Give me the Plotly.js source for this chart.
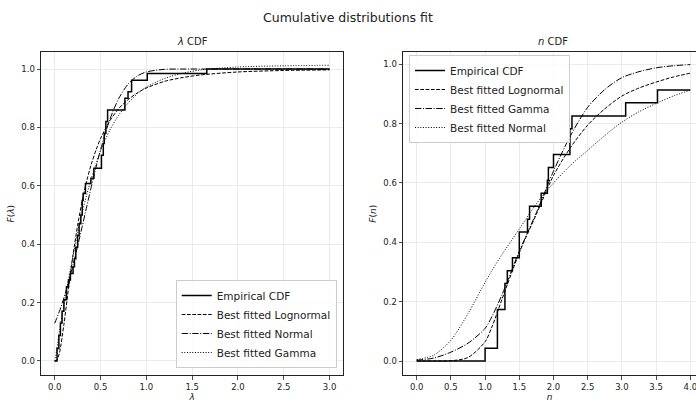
<!DOCTYPE html>
<html>
<head>
<meta charset="utf-8">
<script src="https://cdn.plot.ly/plotly-3.0.1.min.js"></script>
<style>
  html, body { margin: 0; padding: 0; background: #fff; }
  #chart { width: 696px; height: 403px; }
</style>
</head>
<body>
<div id="chart"></div>
<script>
// ---------- λ panel data ----------
const lamEcdfX = [0, 0.025, 0.045, 0.062, 0.08, 0.10, 0.128, 0.15, 0.171, 0.20, 0.215, 0.23, 0.25, 0.266, 0.285, 0.30, 0.31, 0.335, 0.395, 0.427, 0.51, 0.53, 0.54, 0.558, 0.577, 0.766, 0.80, 0.839, 1.01, 1.66, 3.0];
const lamEcdfY = [0, 0.043, 0.087, 0.13, 0.17, 0.21, 0.254, 0.277, 0.30, 0.323, 0.35, 0.39, 0.43, 0.47, 0.50, 0.55, 0.574, 0.608, 0.626, 0.66, 0.705, 0.745, 0.78, 0.82, 0.86, 0.90, 0.922, 0.962, 0.985, 1.0, 1.0];

const lamGrid      = [0, 0.02, 0.05, 0.1, 0.15, 0.2, 0.25, 0.3, 0.35, 0.4, 0.45, 0.5, 0.6, 0.7, 0.8, 0.9, 1.0, 1.2, 1.4, 1.6, 2.0, 2.5, 3.0];
const lamLognormal = [0, 0.002, 0.026, 0.125, 0.248, 0.364, 0.465, 0.549, 0.618, 0.675, 0.722, 0.762, 0.822, 0.865, 0.895, 0.918, 0.935, 0.958, 0.971, 0.980, 0.990, 0.995, 0.997];
const lamNormal    = [0.129, 0.145, 0.169, 0.216, 0.270, 0.330, 0.394, 0.461, 0.530, 0.598, 0.663, 0.723, 0.826, 0.900, 0.948, 0.976, 0.990, 0.999, 1.0, 1.0, 1.0, 1.0, 1.0];
const lamGamma     = [0, 0.035, 0.10, 0.19, 0.28, 0.36, 0.44, 0.51, 0.57, 0.625, 0.675, 0.72, 0.79, 0.843, 0.883, 0.915, 0.938, 0.968, 0.986, 0.997, 1.007, 1.011, 1.013];

// ---------- n panel data ----------
const nEcdfX = [0, 1.0, 1.18, 1.29, 1.325, 1.40, 1.50, 1.62, 1.65, 1.82, 1.91, 1.925, 2.00, 2.24, 2.27, 3.055, 3.52, 4.0];
const nEcdfY = [0, 0.0435, 0.174, 0.261, 0.304, 0.348, 0.435, 0.478, 0.522, 0.565, 0.609, 0.652, 0.696, 0.783, 0.826, 0.870, 0.913, 0.913];

const nGrid      = [0, 0.25, 0.5, 0.75, 1.0, 1.1, 1.25, 1.5, 1.75, 2.0, 2.25, 2.5, 2.75, 3.0, 3.25, 3.5, 3.75, 4.0];
const nLognormal = [0, 0.0, 0.001, 0.012, 0.065, 0.115, 0.21, 0.365, 0.495, 0.625, 0.72, 0.795, 0.85, 0.893, 0.92, 0.94, 0.957, 0.97];
const nGamma     = [0.003, 0.01, 0.03, 0.06, 0.11, 0.15, 0.225, 0.37, 0.50, 0.64, 0.76, 0.855, 0.915, 0.955, 0.975, 0.988, 0.995, 0.999];
const nNormal    = [0.005, 0.02, 0.07, 0.16, 0.265, 0.305, 0.36, 0.445, 0.53, 0.60, 0.66, 0.71, 0.76, 0.805, 0.84, 0.868, 0.893, 0.913];

const tickVals1 = [0, 0.5, 1.0, 1.5, 2.0, 2.5, 3.0];
const tickText1 = ['0.0', '0.5', '1.0', '1.5', '2.0', '2.5', '3.0'];
const tickVals2 = [0, 0.5, 1.0, 1.5, 2.0, 2.5, 3.0, 3.5, 4.0];
const tickText2 = ['0.0', '0.5', '1.0', '1.5', '2.0', '2.5', '3.0', '3.5', '4.0'];
const yTickVals = [0, 0.2, 0.4, 0.6, 0.8, 1.0];
const yTickText = ['0.0', '0.2', '0.4', '0.6', '0.8', '1.0'];

const FONT = 'DejaVu Sans, sans-serif';
const DASH = '3.7px,1.6px';
const DASHDOT = '6.4px,1.6px,1px,1.6px';
const DOT = '1px,1.65px';

function fitLine(x, y, name, dash, xa, ya, legend) {
  return {x: x, y: y, name: name, type: 'scatter', mode: 'lines',
          line: {color: '#000', width: 1, dash: dash, shape: 'spline', smoothing: 0.8},
          xaxis: xa, yaxis: ya, legend: legend, hoverinfo: 'skip'};
}

const traces = [
  {x: lamEcdfX, y: lamEcdfY, name: 'Empirical CDF', type: 'scatter', mode: 'lines',
   line: {color: '#000', width: 1.5, shape: 'hv'}, xaxis: 'x', yaxis: 'y', legend: 'legend'},
  fitLine(lamGrid, lamLognormal, 'Best fitted Lognormal', DASH, 'x', 'y', 'legend'),
  fitLine(lamGrid, lamNormal, 'Best fitted Normal', DASHDOT, 'x', 'y', 'legend'),
  fitLine(lamGrid, lamGamma, 'Best fitted Gamma', DOT, 'x', 'y', 'legend'),

  {x: nEcdfX, y: nEcdfY, name: 'Empirical CDF', type: 'scatter', mode: 'lines',
   line: {color: '#000', width: 1.5, shape: 'hv'}, xaxis: 'x2', yaxis: 'y2', legend: 'legend2'},
  fitLine(nGrid, nLognormal, 'Best fitted Lognormal', DASH, 'x2', 'y2', 'legend2'),
  fitLine(nGrid, nGamma, 'Best fitted Gamma', DASHDOT, 'x2', 'y2', 'legend2'),
  fitLine(nGrid, nNormal, 'Best fitted Normal', DOT, 'x2', 'y2', 'legend2')
];

const axisCommon = {
  showgrid: true, gridcolor: '#e6e6e6', gridwidth: 0.8,
  zeroline: false, showline: true, linecolor: '#222', linewidth: 1,
  ticks: 'outside', ticklen: 3.5, tickwidth: 0.8, tickcolor: '#222',
  tickfont: {family: FONT, size: 8.5, color: '#222'}
};

const legendCommon = {
  bgcolor: 'rgba(255,255,255,0.8)', bordercolor: '#cccccc', borderwidth: 1,
  font: {family: FONT, size: 10.5, color: '#222'}, itemwidth: 30, tracegroupgap: 0
};

const layout = {
  width: 696, height: 403,
  margin: {l: 0, r: 0, t: 0, b: 0},
  paper_bgcolor: '#fff', plot_bgcolor: '#fff',
  font: {family: FONT, color: '#222'},
  showlegend: true,
  xaxis: Object.assign({}, axisCommon, {
    domain: [41 / 696, 343.3 / 696], range: [-0.15, 3.15],
    tickvals: tickVals1, ticktext: tickText1, mirror: true, anchor: 'y',
    title: {text: '<i>λ</i>', font: {family: FONT, size: 9}, standoff: 1}
  }),
  yaxis: Object.assign({}, axisCommon, {
    domain: [28 / 403, 350.6 / 403], range: [-0.048, 1.057],
    tickvals: yTickVals, ticktext: yTickText, mirror: true, anchor: 'x',
    title: {text: '<i>F</i>(<i>λ</i>)', font: {family: FONT, size: 9}, standoff: 5}
  }),
  xaxis2: Object.assign({}, axisCommon, {
    domain: [403 / 696, 1], range: [-0.2, 4.083],
    tickvals: tickVals2, ticktext: tickText2, mirror: true, anchor: 'y2',
    ticklabeloverflow: 'allow',
    title: {text: '<i>n</i>', font: {family: FONT, size: 9}, standoff: 1}
  }),
  yaxis2: Object.assign({}, axisCommon, {
    domain: [28 / 403, 350.6 / 403], range: [-0.047, 1.040],
    tickvals: yTickVals, ticktext: yTickText, mirror: false, anchor: 'x2',
    title: {text: '<i>F</i>(<i>n</i>)', font: {family: FONT, size: 9}, standoff: 5}
  }),
  legend: Object.assign({}, legendCommon, {
    x: 336.7 / 696, y: (403 - 368) / 403, xanchor: 'right', yanchor: 'bottom'
  }),
  legend2: Object.assign({}, legendCommon, {
    x: 409 / 696, y: (403 - 55) / 403, xanchor: 'left', yanchor: 'top'
  }),
  annotations: [
    {text: 'Cumulative distributions fit', xref: 'paper', yref: 'paper',
     x: 0.5, y: 1 - 17.5 / 403, xanchor: 'center', yanchor: 'middle', showarrow: false,
     font: {family: FONT, size: 12.5, color: '#222'}},
    {text: '<i>λ</i> CDF', xref: 'paper', yref: 'paper',
     x: 192 / 696, y: 1 - 42 / 403, xanchor: 'center', yanchor: 'middle', showarrow: false,
     font: {family: FONT, size: 10, color: '#222'}},
    {text: '<i>n</i> CDF', xref: 'paper', yref: 'paper',
     x: 553 / 696, y: 1 - 42 / 403, xanchor: 'center', yanchor: 'middle', showarrow: false,
     font: {family: FONT, size: 10, color: '#222'}}
  ]
};

Plotly.newPlot('chart', traces, layout, {staticPlot: true, displayModeBar: false});
</script>
</body>
</html>
